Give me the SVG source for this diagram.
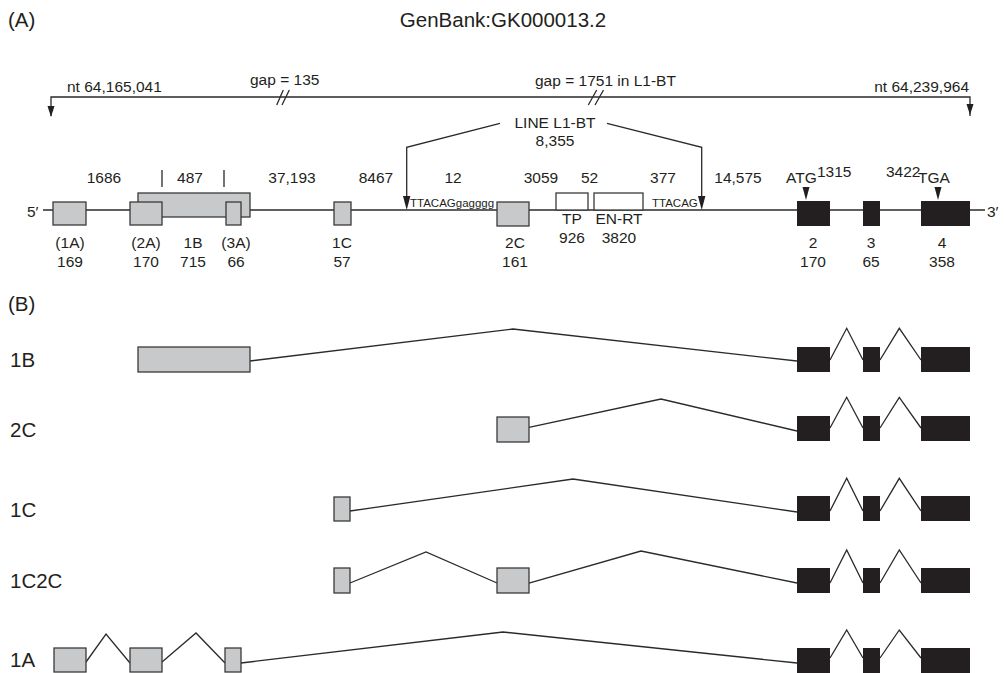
<svg xmlns="http://www.w3.org/2000/svg" width="1005" height="673" viewBox="0 0 1005 673">
<style>
text{font-family:"Liberation Sans",Arial,sans-serif;fill:#231f20;font-size:15.5px}
.t{font-size:20.5px}
.s{font-size:11.5px}
.m{text-anchor:middle}
.e{text-anchor:end}
.g{fill:#c8c9cb;stroke:#3a3a3a;stroke-width:1.3}
.k{fill:#231f20;stroke:none}
.w{fill:#fff;stroke:#3a3a3a;stroke-width:1.3}
.l{fill:none;stroke:#2a2a2a;stroke-width:1.3}
.ah{fill:#231f20}
</style>

<g id="titles">
<text class="t" x="8" y="27">(A)</text>
<text class="t m" x="503" y="27">GenBank:GK000013.2</text>
<text class="t" x="8" y="311">(B)</text>
</g>

<g id="connectors">
<path class="l" d="M51,116 V97 H970 V116"/>
<path class="ah" d="M47.5,106 L54.5,106 L51,117 Z"/>
<path class="ah" d="M966.5,104 L973.5,104 L970,115 Z"/>
<path class="l" d="M276.7,105 L283.3,90 M282,105 L289.3,90"/>
<path class="l" d="M588.3,105 L596.7,90 M595,105 L603.5,90"/>
<path class="l" d="M500,123.3 L406.7,147.3 V200"/>
<path class="l" d="M607,123.3 L701.7,147.3 V200"/>
<path class="ah" d="M403,196 L410.4,196 L406.7,210 Z"/>
<path class="ah" d="M698,196 L705.4,196 L701.7,210 Z"/>
<path class="l" d="M43,210 H985"/>
<path class="l" d="M162,170 V187 M224,170 V187"/>
<path class="ah" d="M802.5,187 L809.5,187 L806,200 Z"/>
<path class="ah" d="M934.5,187 L941.5,187 L938,200 Z"/>
<path class="l" d="M250,361 L513,329 L797,361"/>
<path class="l" d="M830,360 L846.7,328.3 L863,360 M880,360 L899.3,328.3 L921,360"/>
<path class="l" d="M529,427.3 L661,399 L797,431"/>
<path class="l" d="M830,428 L846.7,397.3 L863,428 M880,428 L899.3,397.3 L921,428"/>
<path class="l" d="M350,511 L573,479 L797,512"/>
<path class="l" d="M830,511 L846.7,478.3 L863,511 M880,511 L899.3,478.3 L921,511"/>
<path class="l" d="M350,583 L426,552 L497,583"/>
<path class="l" d="M529,583 L641,551 L797,583"/>
<path class="l" d="M830,583 L846.7,550 L863,583 M880,583 L899.3,550 L921,583"/>
<path class="l" d="M86,662 L106,634 L130,663"/>
<path class="l" d="M162,662 L196,633 L225,663"/>
<path class="l" d="M241,663 L503,632 L797,663"/>
<path class="l" d="M830,658 L846.7,630 L863,658 M880,658 L899.3,630 L921,658"/>
</g>

<g id="labels-A">
<text x="67" y="92">nt 64,165,041</text>
<text x="250" y="85">gap = 135</text>
<text x="535" y="86">gap = 1751 in L1-BT</text>
<text class="e" x="969" y="92">nt 64,239,964</text>
<text class="m" x="555" y="128">LINE L1-BT</text>
<text class="m" x="555" y="146">8,355</text>
<text class="m" x="104" y="183">1686</text>
<text class="m" x="190" y="183">487</text>
<text class="m" x="292" y="183">37,193</text>
<text class="m" x="376" y="183">8467</text>
<text class="m" x="453" y="183">12</text>
<text class="m" x="541" y="183">3059</text>
<text class="m" x="589.5" y="183">52</text>
<text class="m" x="663" y="183">377</text>
<text class="m" x="738" y="183">14,575</text>
<text x="786" y="183">ATG</text>
<text x="817" y="177">1315</text>
<text x="886" y="177">3422</text>
<text x="918" y="183">TGA</text>
<text class="s" x="410" y="207">TTACAGgagggg</text>
<text class="s" x="652" y="207">TTACAG</text>
<text x="27" y="217">5′</text>
<text x="987" y="217">3′</text>
</g>

<g id="exon-1B-A"><rect class="g" x="138" y="193" width="112" height="24"/><text class="m" x="193" y="248">1B</text><text class="m" x="193" y="267">715</text></g>
<g id="exon-1A-A"><rect class="g" x="53" y="202" width="33" height="23"/><text class="m" x="70" y="248">(1A)</text><text class="m" x="70" y="267">169</text></g>
<g id="exon-2A-A"><rect class="g" x="130" y="202" width="32" height="23"/><text class="m" x="146" y="248">(2A)</text><text class="m" x="146" y="267">170</text></g>
<g id="exon-3A-A"><rect class="g" x="226" y="202" width="15" height="23"/><text class="m" x="236" y="248">(3A)</text><text class="m" x="236" y="267">66</text></g>
<g id="exon-1C-A"><rect class="g" x="334" y="202" width="17" height="23"/><text class="m" x="342" y="248">1C</text><text class="m" x="342" y="267">57</text></g>
<g id="exon-2C-A"><rect class="g" x="497" y="202" width="32" height="24"/><text class="m" x="515" y="248">2C</text><text class="m" x="515" y="267">161</text></g>
<g id="TP"><rect class="w" x="556" y="193" width="32" height="17"/><text class="m" x="572" y="224">TP</text><text class="m" x="572" y="243">926</text></g>
<g id="EN-RT"><rect class="w" x="594" y="193" width="49" height="17"/><text class="m" x="619" y="224">EN-RT</text><text class="m" x="619" y="243">3820</text></g>
<g id="exon-2-A"><rect class="k" x="797" y="201" width="33" height="25"/><text class="m" x="813" y="248">2</text><text class="m" x="813" y="267">170</text></g>
<g id="exon-3-A"><rect class="k" x="863" y="201" width="17" height="25"/><text class="m" x="871" y="248">3</text><text class="m" x="871" y="267">65</text></g>
<g id="exon-4-A"><rect class="k" x="921" y="201" width="49" height="25"/><text class="m" x="942" y="248">4</text><text class="m" x="942" y="267">358</text></g>

<g id="row-1B">
<text class="t" x="10" y="367">1B</text>
<rect class="g" x="138" y="347" width="112" height="25"/>
<rect class="k" x="797" y="347" width="33" height="25"/><rect class="k" x="863" y="347" width="17" height="25"/><rect class="k" x="921" y="347" width="49" height="25"/>
</g>
<g id="row-2C">
<text class="t" x="10" y="437">2C</text>
<rect class="g" x="497" y="417" width="32" height="25"/>
<rect class="k" x="797" y="416" width="33" height="25"/><rect class="k" x="863" y="416" width="17" height="25"/><rect class="k" x="921" y="416" width="49" height="25"/>
</g>
<g id="row-1C">
<text class="t" x="10" y="517">1C</text>
<rect class="g" x="334" y="497" width="16" height="24"/>
<rect class="k" x="797" y="496" width="33" height="25"/><rect class="k" x="863" y="496" width="17" height="25"/><rect class="k" x="921" y="496" width="49" height="25"/>
</g>
<g id="row-1C2C">
<text class="t" x="10" y="588">1C2C</text>
<rect class="g" x="334" y="568" width="16" height="25"/>
<rect class="g" x="497" y="568" width="32" height="25"/>
<rect class="k" x="797" y="568" width="33" height="25"/><rect class="k" x="863" y="568" width="17" height="25"/><rect class="k" x="921" y="568" width="49" height="25"/>
</g>
<g id="row-1A">
<text class="t" x="10" y="667">1A</text>
<rect class="g" x="54" y="648" width="32" height="24"/>
<rect class="g" x="130" y="648" width="32" height="24"/>
<rect class="g" x="225" y="648" width="16" height="24"/>
<rect class="k" x="797" y="648" width="33" height="25"/><rect class="k" x="863" y="648" width="17" height="25"/><rect class="k" x="921" y="648" width="49" height="25"/>
</g>
</svg>
